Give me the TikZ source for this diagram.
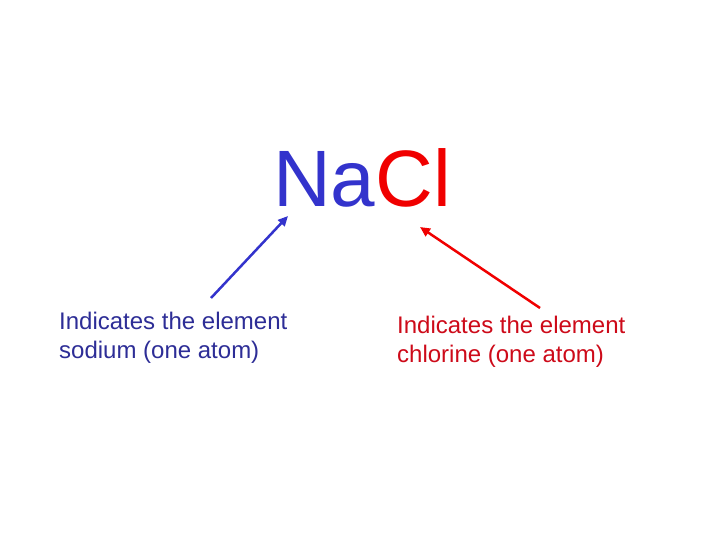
\documentclass[tikz,border=0pt]{standalone}
\usepackage{fontspec}
\setmainfont{Liberation Sans}
\usetikzlibrary{arrows.meta}
\definecolor{nablue}{RGB}{51,51,204}
\definecolor{clred}{RGB}{240,0,0}
\definecolor{navytext}{RGB}{45,45,150}
\definecolor{redtext}{RGB}{205,10,25}

\begin{document}
\begin{tikzpicture}[x=1pt, y=-1pt,
	formula/.style={anchor=base west, inner sep=0, font=\fontsize{80}{96}\selectfont},
	note/.style={anchor=base west, inner sep=0, align=left, font=\fontsize{24}{29.5}\selectfont},
	pointer/.style={line width=2.5pt, -{Triangle[length=10pt, width=9pt]}}]
	\useasboundingbox (0,0) rectangle (720,540);
	
	\node[formula, text=nablue] (na) at (273,207) {Na};
	\node[formula, text=clred, anchor=base west] (cl) at (na.base east) {Cl};
	
	% base anchor sits on the last line
	\node[note, text=navytext] (sodium) at (59,358.5) {Indicates the element\\sodium (one atom)};
	\node[note, text=redtext] (chlorine) at (397,362.5) {Indicates the element\\chlorine (one atom)};
	
	\coordinate (natip) at (288,216);
	\coordinate (natail) at (211,298);
	\coordinate (cltip) at (420,227);
	\coordinate (cltail) at (540,308);
	
	\draw[pointer, nablue] (natail) -- (natip);
	\draw[pointer, clred] (cltail) -- (cltip);
\end{tikzpicture}
\end{document}
